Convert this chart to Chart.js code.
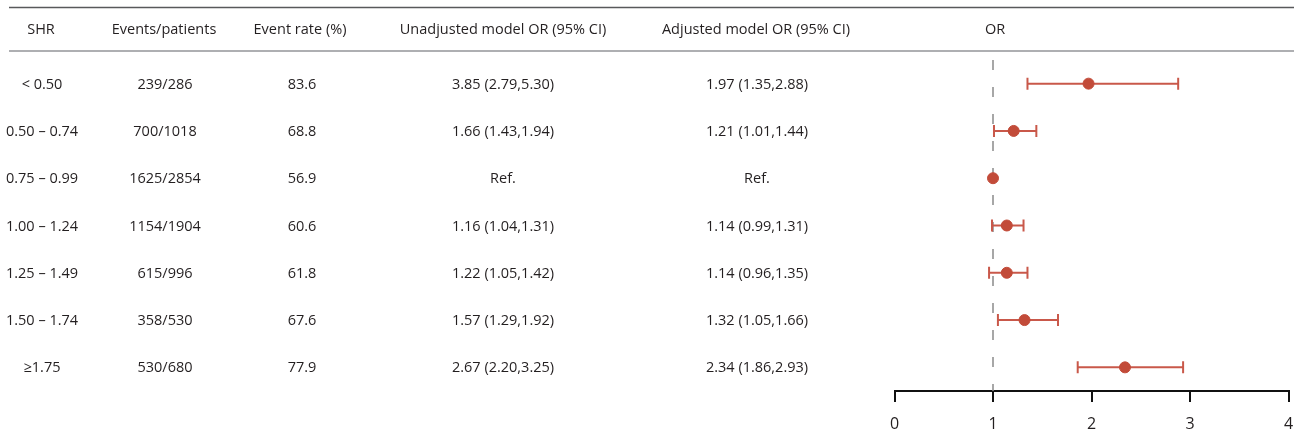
<!DOCTYPE html>
<html>
<head>
<meta charset="utf-8">
<script src="https://cdn.jsdelivr.net/npm/chart.js@4/dist/chart.umd.min.js"></script>
<style>
  html, body { margin: 0; padding: 0; background: #fff; }
  #wrap { width: 1301px; height: 435px; position: relative; }
</style>
</head>
<body>
<div id="wrap"><canvas id="forest"></canvas></div>
<script>
// Table columns
const headers = ['SHR', 'Events/patients', 'Event rate (%)', 'Unadjusted model OR (95% CI)', 'Adjusted model OR (95% CI)', 'OR'];
const shrGroups = ['< 0.50', '0.50 \u2013 0.74', '0.75 \u2013 0.99', '1.00 \u2013 1.24', '1.25 \u2013 1.49', '1.50 \u2013 1.74', '\u22651.75'];
const eventsPatients = ['239/286', '700/1018', '1625/2854', '1154/1904', '615/996', '358/530', '530/680'];
const eventRate = ['83.6', '68.8', '56.9', '60.6', '61.8', '67.6', '77.9'];
const unadjusted = ['3.85 (2.79,5.30)', '1.66 (1.43,1.94)', 'Ref.', '1.16 (1.04,1.31)', '1.22 (1.05,1.42)', '1.57 (1.29,1.92)', '2.67 (2.20,3.25)'];
const adjusted = ['1.97 (1.35,2.88)', '1.21 (1.01,1.44)', 'Ref.', '1.14 (0.99,1.31)', '1.14 (0.96,1.35)', '1.32 (1.05,1.66)', '2.34 (1.86,2.93)'];

// Forest plot values (adjusted model)
const orValue = [1.97, 1.21, 1.00, 1.14, 1.14, 1.32, 2.34];
const ciLow = [1.35, 1.01, null, 0.99, 0.96, 1.05, 1.86];
const ciHigh = [2.88, 1.44, null, 1.31, 1.35, 1.66, 2.93];
const xTicks = [0, 1, 2, 3, 4];

const columnX = [42, 165, 302, 503, 757];
const textColor = '#231f20';
const textFont = '14.5px "Open Sans", "Noto Sans", sans-serif';
const red = '#c24b39';

// one line dataset per row for the CI whiskers (caps are rotated 'line' points)
const ciSets = [];
orValue.forEach((v, i) => {
    if (ciLow[i] === null) return;
    ciSets.push({
        type: 'scatter',
        data: [{ x: ciLow[i], y: i }, { x: ciHigh[i], y: i }],
        showLine: true,
        borderColor: '#c9584a',
        borderWidth: 2,
        pointStyle: 'line',
        rotation: 90,
        pointRadius: 6,
        pointBorderColor: '#c9584a',
        pointBorderWidth: 2,
        order: 2
    });
});

// Draws the table text and the horizontal rules
const tablePlugin = {
    id: 'tableText',
    afterDraw(chart) {
        const c = chart.ctx;
        const yScale = chart.scales.y;
        c.save();
        // rules
        c.lineWidth = 1.5;
        c.strokeStyle = '#58595b';
        c.beginPath(); c.moveTo(9, 7.5); c.lineTo(1294, 7.5); c.stroke();
        c.strokeStyle = '#939598';
        c.beginPath(); c.moveTo(9, 51); c.lineTo(1294, 51); c.stroke();

        c.fillStyle = textColor;
        c.font = textFont;
        c.textAlign = 'center';
        c.textBaseline = 'middle';
        const headX = [41, 164, 300, 503, 756, chart.scales.x.getPixelForValue(1) + 2];
        headers.forEach((h, k) => c.fillText(h, headX[k], 30));

        const cols = [shrGroups, eventsPatients, eventRate, unadjusted, adjusted];
        shrGroups.forEach((g, i) => {
            const y = yScale.getPixelForValue(i) + 1;
            cols.forEach((col, k) => c.fillText(col[i], columnX[k], y));
        });
        c.restore();
    }
};

const chart = new Chart(document.getElementById('forest'), {
    type: 'scatter',
    data: {
        datasets: [
            {
                // reference line at OR = 1
                type: 'scatter',
                data: [{ x: 1, y: -0.5 }, { x: 1, y: 6.5 }],
                showLine: true,
                borderColor: '#8a8a8a',
                borderWidth: 1.5,
                borderDash: [10, 17],
                pointRadius: 0,
                order: 3
            },
            ...ciSets,
            {
                data: orValue.map((v, i) => ({ x: v, y: i })),
                backgroundColor: red,
                borderColor: red,
                pointRadius: 5.5,
                pointHoverRadius: 5.5,
                order: 1
            }
        ]
    },
    options: {
        responsive: true,
        maintainAspectRatio: false,
        animation: false,
        layout: { padding: { left: 894.5, right: 12.5, top: 60, bottom: 0 } },
        plugins: {
            legend: { display: false },
            tooltip: { enabled: false }
        },
        scales: {
            x: {
                type: 'linear',
                min: 0,
                max: 4,
                afterBuildTicks: (s) => { s.ticks = xTicks.map(v => ({ value: v })); },
                afterFit: (s) => {
                    s.height = 44;
                    // don't let the tick labels widen the side padding
                    s.paddingLeft = 0;
                    s.paddingRight = 0;
                },
                border: { display: true, color: '#111', width: 2 },
                grid: { drawOnChartArea: false, drawTicks: true, tickLength: 11, color: '#111', lineWidth: 2 },
                ticks: {
                    color: textColor,
                    padding: 13,
                    font: { family: '"Open Sans", "Noto Sans", sans-serif', size: 16 }
                }
            },
            y: {
                type: 'linear',
                reverse: true,
                min: -0.5,
                max: 6.5,
                display: false
            }
        }
    },
    plugins: [tablePlugin]
});
</script>
</body>
</html>
